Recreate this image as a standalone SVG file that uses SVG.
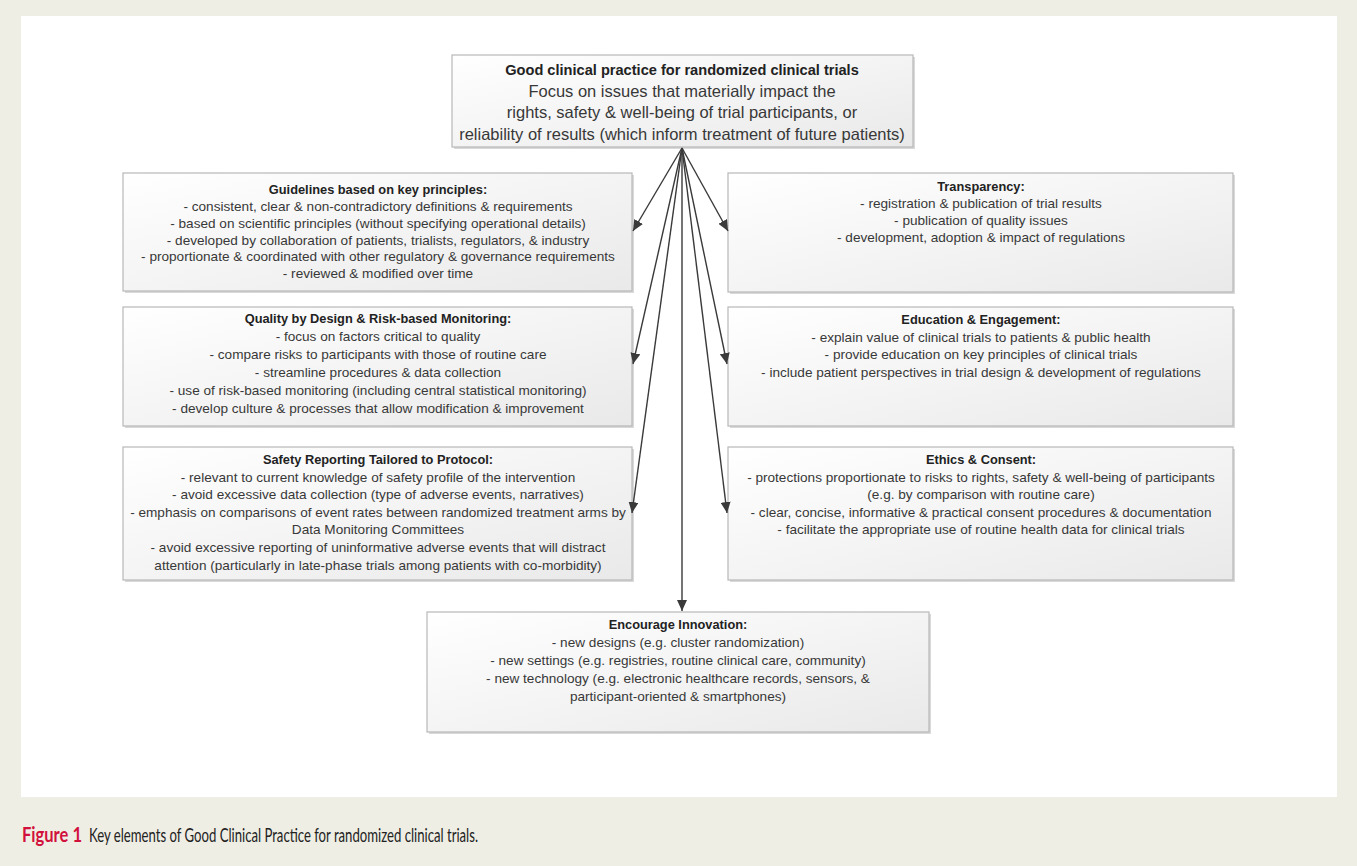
<svg xmlns="http://www.w3.org/2000/svg" width="1357" height="866" viewBox="0 0 1357 866">
<defs>
<linearGradient id="bg" x1="0" y1="0" x2="1" y2="1">
<stop offset="0" stop-color="#ffffff"/>
<stop offset="1" stop-color="#e9e9e9"/>
</linearGradient>
<marker id="ah" markerUnits="userSpaceOnUse" markerWidth="12" markerHeight="10" refX="11" refY="5" orient="auto">
<path d="M0,0 L11,5 L0,10 Z" fill="#3a3a3a"/>
</marker>
</defs>
<style>
.box{fill:url(#bg);stroke:#b8b8b8;stroke-width:1.2}
.sh{fill:#d9d9d9}
.t{font-family:"Liberation Sans",Arial,sans-serif;font-size:13.6px;fill:#383838;text-anchor:middle}
.b{font-weight:bold;fill:#222;font-size:12.8px}
.tt{font-family:"Liberation Sans",Arial,sans-serif;font-size:16.5px;fill:#383838;text-anchor:middle}
.tb{font-weight:bold;fill:#222;font-size:14.6px}
.conn line{stroke:#3a3a3a;stroke-width:1.4;marker-end:url(#ah)}
.cap{font-family:Lato,"Liberation Sans",sans-serif;font-size:20px}
</style>
<rect x="0" y="0" width="1357" height="866" fill="#efeee4"/>
<rect x="21" y="16" width="1316" height="781" fill="#ffffff"/>

<g id="top">
<rect class="sh" x="454" y="57" width="461" height="92"/>
<rect class="box" x="452" y="55" width="461" height="92"/>
<text class="tt tb" x="682" y="75">Good clinical practice for randomized clinical trials</text>
<text class="tt" x="682" y="97">Focus on issues that materially impact the</text>
<text class="tt" x="682" y="118">rights, safety &amp; well-being of trial participants, or</text>
<text class="tt" x="682" y="140">reliability of results (which inform treatment of future patients)</text>
</g>

<g id="guidelines">
<rect class="sh" x="125" y="175" width="509" height="118"/>
<rect class="box" x="123" y="173" width="509" height="118"/>
<text class="t b" x="378" y="194">Guidelines based on key principles:</text>
<text class="t" x="378" y="211">- consistent, clear &amp; non-contradictory definitions &amp; requirements</text>
<text class="t" x="378" y="228">- based on scientific principles (without specifying operational details)</text>
<text class="t" x="378" y="245">- developed by collaboration of patients, trialists, regulators, &amp; industry</text>
<text class="t" x="378" y="261">- proportionate &amp; coordinated with other regulatory &amp; governance requirements</text>
<text class="t" x="378" y="278">- reviewed &amp; modified over time</text>
</g>

<g id="transparency">
<rect class="sh" x="730" y="175" width="505" height="119"/>
<rect class="box" x="728" y="173" width="505" height="119"/>
<text class="t b" x="981" y="191">Transparency:</text>
<text class="t" x="981" y="208">- registration &amp; publication of trial results</text>
<text class="t" x="981" y="225">- publication of quality issues</text>
<text class="t" x="981" y="242">- development, adoption &amp; impact of regulations</text>
</g>

<g id="quality">
<rect class="sh" x="125" y="309" width="509" height="119"/>
<rect class="box" x="123" y="307" width="509" height="119"/>
<text class="t b" x="378" y="323">Quality by Design &amp; Risk-based Monitoring:</text>
<text class="t" x="378" y="341">- focus on factors critical to quality</text>
<text class="t" x="378" y="359">- compare risks to participants with those of routine care</text>
<text class="t" x="378" y="377">- streamline procedures &amp; data collection</text>
<text class="t" x="378" y="395">- use of risk-based monitoring (including central statistical monitoring)</text>
<text class="t" x="378" y="413">- develop culture &amp; processes that allow modification &amp; improvement</text>
</g>

<g id="education">
<rect class="sh" x="730" y="309" width="505" height="119"/>
<rect class="box" x="728" y="307" width="505" height="119"/>
<text class="t b" x="981" y="324">Education &amp; Engagement:</text>
<text class="t" x="981" y="342">- explain value of clinical trials to patients &amp; public health</text>
<text class="t" x="981" y="359">- provide education on key principles of clinical trials</text>
<text class="t" x="981" y="377">- include patient perspectives in trial design &amp; development of regulations</text>
</g>

<g id="safety">
<rect class="sh" x="125" y="449" width="509" height="133"/>
<rect class="box" x="123" y="447" width="509" height="133"/>
<text class="t b" x="378" y="464">Safety Reporting Tailored to Protocol:</text>
<text class="t" x="378" y="482">- relevant to current knowledge of safety profile of the intervention</text>
<text class="t" x="378" y="499">- avoid excessive data collection (type of adverse events, narratives)</text>
<text class="t" x="378" y="517">- emphasis on comparisons of event rates between randomized treatment arms by</text>
<text class="t" x="378" y="534">Data Monitoring Committees</text>
<text class="t" x="378" y="552">- avoid excessive reporting of uninformative adverse events that will distract</text>
<text class="t" x="378" y="570">attention (particularly in late-phase trials among patients with co-morbidity)</text>
</g>

<g id="ethics">
<rect class="sh" x="730" y="449" width="505" height="133"/>
<rect class="box" x="728" y="447" width="505" height="133"/>
<text class="t b" x="981" y="464">Ethics &amp; Consent:</text>
<text class="t" x="981" y="482">- protections proportionate to risks to rights, safety &amp; well-being of participants</text>
<text class="t" x="981" y="499">(e.g. by comparison with routine care)</text>
<text class="t" x="981" y="517">- clear, concise, informative &amp; practical consent procedures &amp; documentation</text>
<text class="t" x="981" y="534">-  facilitate the appropriate use of routine health data for clinical trials</text>
</g>

<g id="innovation">
<rect class="sh" x="429" y="614" width="502" height="120"/>
<rect class="box" x="427" y="612" width="502" height="120"/>
<text class="t b" x="678" y="629">Encourage Innovation:</text>
<text class="t" x="678" y="647">- new designs (e.g. cluster randomization)</text>
<text class="t" x="678" y="665">- new settings (e.g. registries, routine clinical care, community)</text>
<text class="t" x="678" y="683">- new technology (e.g. electronic healthcare records, sensors, &amp;</text>
<text class="t" x="678" y="701">participant-oriented &amp; smartphones)</text>
</g>

<g id="connectors" class="conn">
<line x1="682" y1="148" x2="633" y2="231"/>
<line x1="682" y1="148" x2="728" y2="231"/>
<line x1="682" y1="148" x2="633" y2="364"/>
<line x1="682" y1="148" x2="727" y2="364"/>
<line x1="682" y1="148" x2="632" y2="513"/>
<line x1="682" y1="148" x2="727" y2="513"/>
<line x1="682" y1="148" x2="682" y2="611"/>
</g>

<g id="caption">
<text class="cap" x="22" y="842" font-weight="bold" fill="#d2103c" textLength="60" lengthAdjust="spacingAndGlyphs">Figure 1</text>
<text class="cap" x="89" y="842" fill="#222" textLength="389" lengthAdjust="spacingAndGlyphs">Key elements of Good Clinical Practice for randomized clinical trials.</text>
</g>
</svg>
